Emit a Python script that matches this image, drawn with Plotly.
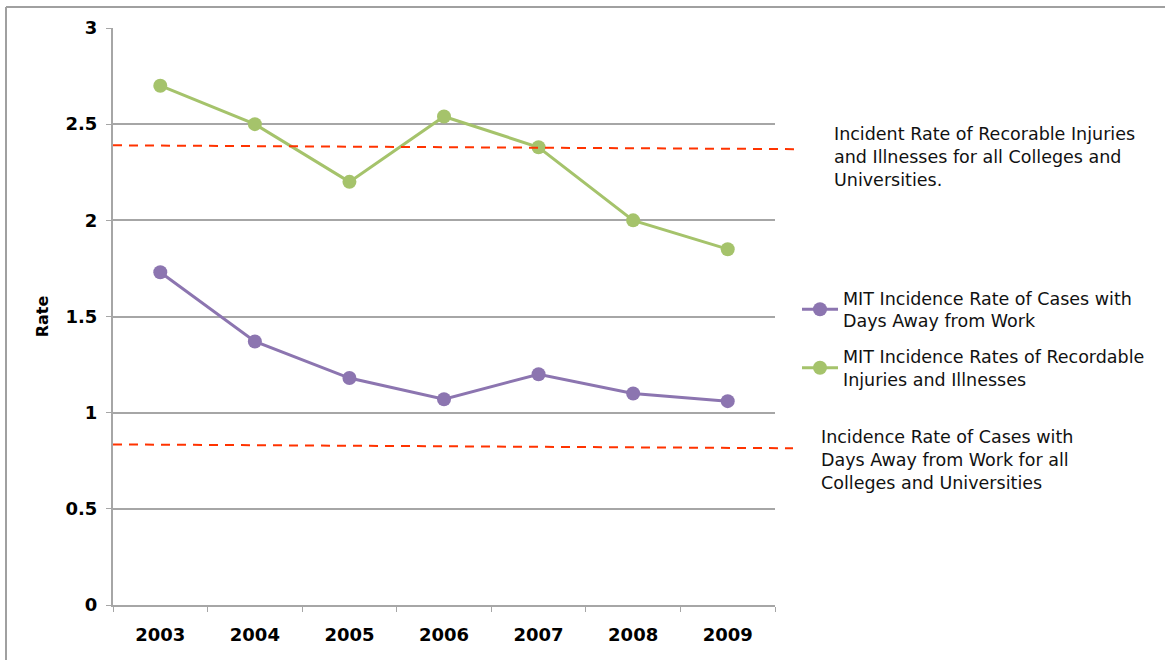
import plotly.graph_objects as go

# Data
years = ["2003", "2004", "2005", "2006", "2007", "2008", "2009"]
days_away = [1.73, 1.37, 1.18, 1.07, 1.20, 1.10, 1.06]
recordable = [2.70, 2.50, 2.20, 2.54, 2.38, 2.00, 1.85]

# National reference rates for colleges and universities (start, end of drawn line)
ref_recordable = [2.39, 2.37]
ref_days_away = [0.835, 0.815]

y_ticks = [0, 0.5, 1, 1.5, 2, 2.5, 3]
y_tick_text = ["0", "0.5", "1", "1.5", "2", "2.5", "3"]

W, H = 1165, 660
L, R, T, B = 113, 390, 28, 55
PW, PH = W - L - R, H - T - B


def px(x):
    return (x - L) / PW


def py(y):
    return (H - B - y) / PH


PURPLE = "#8c75b0"
GREEN = "#a5c36b"
RED = "#ff3300"
GRID = "#a6a6a6"
TEXT_FONT = "DejaVu Sans"
TEXT_SIZE = 17.5

fig = go.Figure()

fig.add_trace(go.Scatter(
    x=years, y=days_away, mode="lines+markers",
    name="MIT Incidence Rate of Cases with<br>Days Away from Work",
    legendgroup="days",
    line=dict(color=PURPLE, width=3),
    marker=dict(color=PURPLE, size=14),
))
fig.add_trace(go.Scatter(
    x=years, y=recordable, mode="lines+markers",
    name="MIT Incidence Rates of Recordable<br>Injuries and Illnesses",
    legendgroup="recordable",
    line=dict(color=GREEN, width=3),
    marker=dict(color=GREEN, size=14),
))

shapes = [
    # reference lines
    dict(type="line", xref="paper", yref="y", x0=0, x1=px(800),
         y0=ref_recordable[0], y1=ref_recordable[1],
         line=dict(color=RED, width=2, dash="9px,7px")),
    dict(type="line", xref="paper", yref="y", x0=0, x1=px(793),
         y0=ref_days_away[0], y1=ref_days_away[1],
         line=dict(color=RED, width=2, dash="9px,7px")),
    # outer frame (top and left edges)
    dict(type="line", xref="paper", yref="paper", x0=px(6), x1=px(1170),
         y0=py(7), y1=py(7), line=dict(color="#a0a0a0", width=2)),
    dict(type="line", xref="paper", yref="paper", x0=px(6), x1=px(6),
         y0=py(7), y1=py(665), line=dict(color="#a0a0a0", width=2)),
]

annotations = [
    dict(xref="paper", yref="paper", x=px(832), y=py(122), xanchor="left", yanchor="top",
         align="left", showarrow=False,
         text="Incident Rate of Recorable Injuries<br>and Illnesses for all Colleges and<br>Universities.",
         font=dict(family=TEXT_FONT, size=TEXT_SIZE, color="#111111")),
    dict(xref="paper", yref="paper", x=px(819), y=py(425), xanchor="left", yanchor="top",
         align="left", showarrow=False,
         text="Incidence Rate of Cases with<br>Days Away from Work for all<br>Colleges and Universities",
         font=dict(family=TEXT_FONT, size=TEXT_SIZE, color="#111111")),
]

fig.update_layout(
    width=W, height=H,
    margin=dict(l=L, r=R, t=T, b=B, pad=0),
    paper_bgcolor="white", plot_bgcolor="white",
    shapes=shapes, annotations=annotations,
    legend=dict(
        x=px(797), y=py(280), xanchor="left", yanchor="top",
        font=dict(family=TEXT_FONT, size=TEXT_SIZE, color="#111111"),
        bgcolor="rgba(0,0,0,0)", tracegroupgap=10, itemwidth=36,
    ),
    xaxis=dict(
        type="category", range=[-0.5, 6.5],
        showline=True, linecolor=GRID, linewidth=2,
        ticks="outside", ticklen=5, tickcolor=GRID, tickson="boundaries",
        showgrid=False, zeroline=False, ticklabelstandoff=12,
        tickfont=dict(family=TEXT_FONT, size=18, color="black", weight="bold"),
    ),
    yaxis=dict(
        range=[0, 3], tickvals=y_ticks, ticktext=y_tick_text,
        showline=True, linecolor=GRID, linewidth=2,
        ticks="outside", ticklen=5, tickcolor=GRID,
        showgrid=True, gridcolor=GRID, gridwidth=2, zeroline=False,
        ticklabelstandoff=5,
        tickfont=dict(family=TEXT_FONT, size=18, color="black", weight="bold"),
        title=dict(text="Rate", standoff=13,
                   font=dict(family=TEXT_FONT, size=16, color="black", weight="bold")),
    ),
)

fig.write_html("out.html")
